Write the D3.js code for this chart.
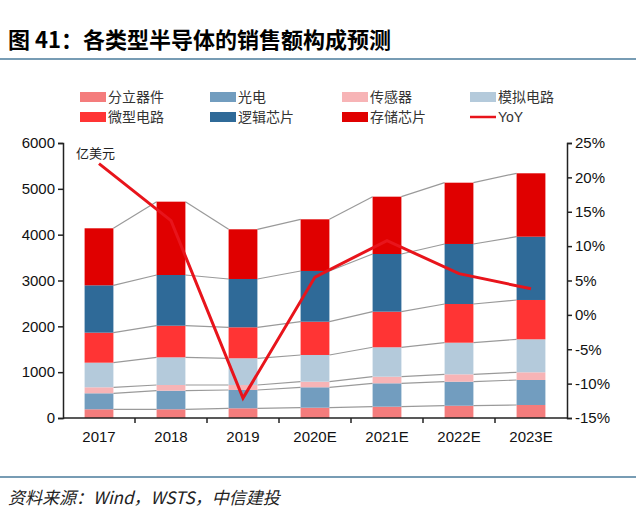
<!DOCTYPE html>
<html><head><meta charset="utf-8">
<script src="https://cdn.jsdelivr.net/npm/d3@7"></script>
<style>body{margin:0;background:#fff}text{font-family:"Liberation Sans",Arial,sans-serif}</style>
</head><body><svg id="c" width="640" height="521"></svg>
<script>
var years = ["2017","2018","2019","2020E","2021E","2022E","2023E"];
var seriesNames = ["分立器件","光电","传感器","模拟电路","微型电路","逻辑芯片","存储芯片"];
var discrete = [190,190,212,225,247,268,284];
var opto     = [349,406,399,445,510,524,545];
var sensor   = [131,124,109,122,144,161,168];
var analog   = [537,604,583,583,642,690,720];
var micro    = [655,690,676,726,777,844,858];
var logic    = [1033,1106,1054,1107,1258,1310,1381];
var memory   = [1244,1600,1084,1127,1251,1337,1383];
var yoy      = [22.0,13.7,-12.1,5.5,10.8,6.0,3.8];
var colors = ["#f47c7c","#729dbf","#f7b4b6","#b4cadb","#ff3434","#2f6a98","#e00000"];

var svg = d3.select("#c");
var all = [discrete,opto,sensor,analog,micro,logic,memory];
var rows = years.map(function(y,i){
  var r = {year:y};
  seriesNames.forEach(function(s,k){ r[s] = all[k][i]; });
  return r;
});
var stack = d3.stack().keys(seriesNames)(rows);

var x = d3.scaleBand().domain(years).range([63,567]).paddingInner(0.6).paddingOuter(0.3);
var y = d3.scaleLinear().domain([0,6000]).range([418,143]);
var y2 = d3.scaleLinear().domain([-15,25]).range([418,143]);

// title + rules
svg.append("text").attr("x",8).attr("y",48).attr("font-size",22).attr("font-weight","bold")
  .style("font-family","'Noto Sans CJK SC'").text("图 41：各类型半导体的销售额构成预测");
svg.append("line").attr("x1",0).attr("x2",636).attr("y1",59).attr("y2",59).attr("stroke","#4a7b9b").attr("stroke-width",1.5);
svg.append("line").attr("x1",0).attr("x2",636).attr("y1",477).attr("y2",477).attr("stroke","#4a7b9b").attr("stroke-width",1.5);
svg.append("text").attr("x",8).attr("y",504).attr("font-size",17).attr("font-style","italic")
  .style("font-family","'Noto Sans CJK SC'").attr("fill","#222").text("资料来源：Wind，WSTS，中信建投");

// legend
var legItems = seriesNames.concat(["YoY"]);
var legX = [80,210,342,470];
legItems.forEach(function(n,i){
  var gx = legX[i%4], gy = i<4 ? 97 : 117;
  if (n==="YoY") svg.append("line").attr("x1",gx).attr("x2",gx+26).attr("y1",gy).attr("y2",gy).attr("stroke","#e8141b").attr("stroke-width",2.5);
  else svg.append("rect").attr("x",gx).attr("y",gy-5).attr("width",26).attr("height",10).attr("fill",colors[i]);
  svg.append("text").attr("x",gx+28).attr("y",gy+5).attr("font-size",14).attr("fill","#333")
    .style("font-family", n==="YoY" ? "'Liberation Sans'" : "'Noto Sans CJK SC'").text(n);
});

// connector lines
var bw = x.bandwidth();
stack.forEach(function(layer){
  for (var i=0;i<years.length-1;i++){
    svg.append("line").attr("x1",x(years[i])+bw).attr("x2",x(years[i+1]))
      .attr("y1",y(layer[i][1])).attr("y2",y(layer[i+1][1])).attr("stroke","#9a9a9a").attr("stroke-width",1.2);
  }
});

// bars
svg.selectAll("g.layer").data(stack).enter().append("g").attr("fill",function(d,i){return colors[i];})
  .selectAll("rect").data(function(d){return d;}).enter().append("rect")
  .attr("x",function(d){return x(d.data.year);}).attr("width",bw)
  .attr("y",function(d){return y(d[1]);}).attr("height",function(d){return y(d[0])-y(d[1]);});

// axes
var gl = svg.append("g").attr("transform","translate(63,0)").call(d3.axisLeft(y).ticks(6).tickSize(5).tickFormat(d3.format("d")));
var gr = svg.append("g").attr("transform","translate(567,0)").call(d3.axisRight(y2).tickValues(d3.range(-15,26,5)).tickSize(5).tickFormat(function(d){return d+"%";}));
var gx = svg.append("g").attr("transform","translate(0,418)").call(d3.axisBottom(x).tickSize(0).tickPadding(13));
[gl,gr,gx].forEach(function(g){
  g.selectAll("path,line").attr("stroke","#222").attr("stroke-width",1.5);
  g.selectAll("text").attr("font-size",15).attr("fill","#111").style("font-family","'Liberation Sans'");
});
gx.select(".domain").attr("d","M63,0H567");
years.slice(0,-1).forEach(function(yr){
  gx.append("line").attr("x1",x(yr)+bw+x.step()*0.3).attr("x2",x(yr)+bw+x.step()*0.3).attr("y1",0).attr("y2",5).attr("stroke","#222").attr("stroke-width",1.5);
});
svg.append("text").attr("x",76).attr("y",158).attr("font-size",13).style("font-family","'Noto Sans CJK SC'").attr("fill","#222").text("亿美元");

// YoY line
svg.append("path").datum(yoy).attr("fill","none").attr("stroke","#e8141b").attr("stroke-width",3)
  .attr("d",d3.line().x(function(d,i){return x(years[i])+bw/2;}).y(function(d){return y2(d);}));
</script></body></html>
